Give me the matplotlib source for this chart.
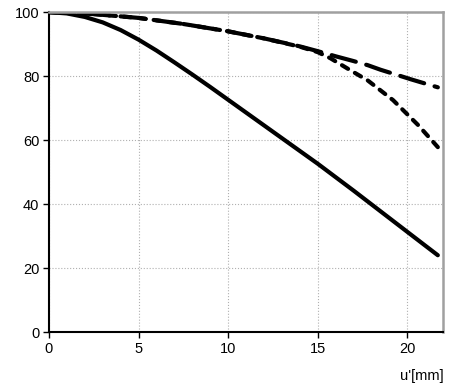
import matplotlib.pyplot as plt

# curve values
u_solid = [0, 1, 2, 3, 4, 5, 6, 7, 8, 9, 10, 11, 12, 13, 14, 15, 16, 17, 18, 19, 20, 21, 21.7]
v_solid = [100, 99.6, 98.5, 96.8, 94.4, 91.4, 88.0, 84.3, 80.5, 76.6, 72.6, 68.6, 64.6,
           60.6, 56.6, 52.6, 48.4, 44.2, 39.9, 35.6, 31.3, 27.0, 24.0]

u_long = [0, 2.5, 5, 7.5, 10, 12, 14, 15, 16, 17, 17.8, 18.5, 19.3, 20.2, 21.7]
v_long = [100, 99.4, 98.2, 96.3, 94.0, 91.8, 89.3, 87.8, 86.2, 84.7, 83.4, 82.0, 80.6, 79.0, 76.5]

u_short = [0, 2.5, 5, 7.5, 10, 12, 14, 15, 15.7, 16.8, 17.8, 19.2, 20.6, 21.7]
v_short = [100, 99.4, 98.2, 96.3, 94.0, 91.8, 89.2, 87.5, 85.6, 81.9, 78.6, 72.5, 64.7, 57.8]

x_ticks = [0, 5, 10, 15, 20]
y_ticks = [0, 20, 40, 60, 80, 100]

plt.rcParams['font.family'] = ['Liberation Sans', 'DejaVu Sans']

fig = plt.figure(figsize=(4.6, 3.92), dpi=100)
ax = fig.add_axes([0.1065, 0.153, 0.857, 0.816])

ax.plot(u_solid, v_solid, color='black', lw=3.0, solid_capstyle='round')
ax.plot(u_long, v_long, color='black', lw=3.0, dashes=(6.0, 2.6), dash_capstyle='round')
ax.plot(u_short, v_short, color='black', lw=3.0, dashes=(1.7, 1.9), dash_capstyle='round')

ax.set_xlim(0, 22)
ax.set_ylim(0, 100)
ax.set_xticks(x_ticks)
ax.set_yticks(y_ticks)
ax.tick_params(labelsize=10.5, length=4, width=1, direction='out', colors='black', pad=3)
ax.grid(True, color='#b0b0b0', linestyle=':', linewidth=0.8)

ax.spines['left'].set_linewidth(1.5)
ax.spines['bottom'].set_linewidth(1.5)
for s in ['top', 'right']:
    ax.spines[s].set_color('#a0a0a0')
    ax.spines[s].set_linewidth(1.8)

fig.text(0.965, 0.022, "u'[mm]", ha='right', va='bottom', fontsize=10.5)

fig.savefig('out.png', dpi=100)
